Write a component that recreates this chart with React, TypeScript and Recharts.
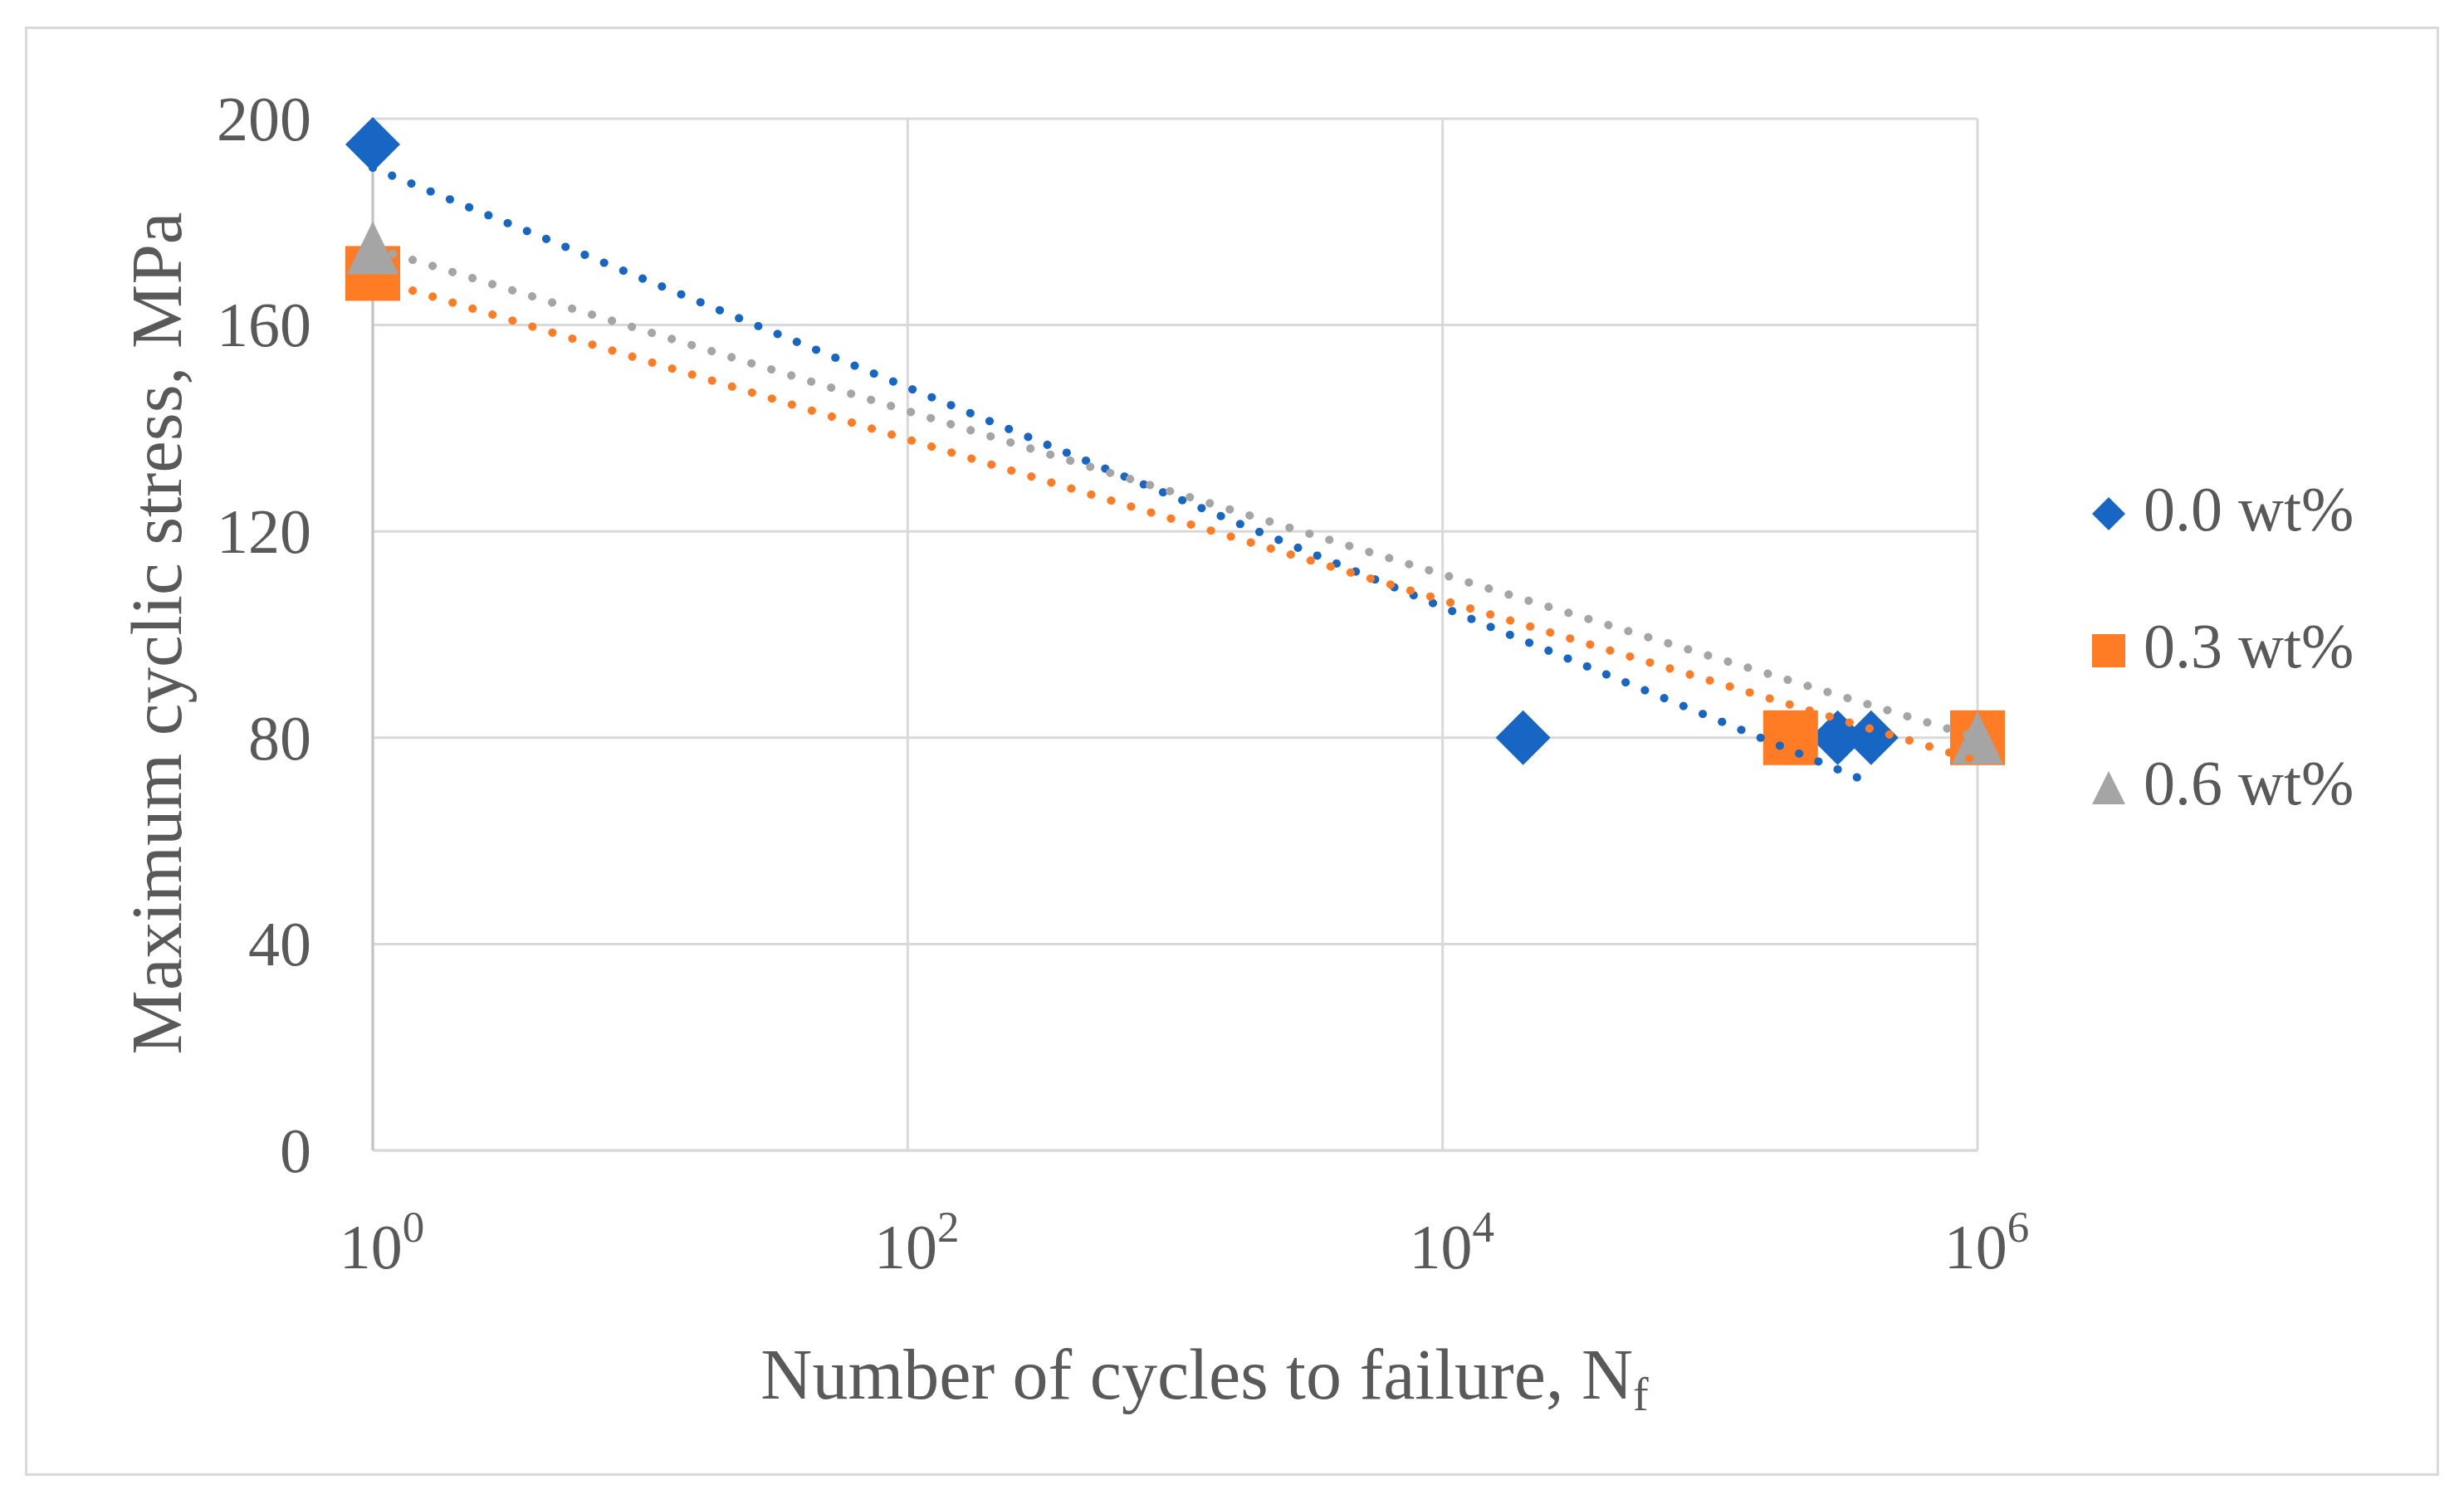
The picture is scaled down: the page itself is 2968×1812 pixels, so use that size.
import React from "react";
import {
  ScatterChart,
  Scatter,
  XAxis,
  YAxis,
  CartesianGrid,
  Legend,
} from "recharts";

const seriesNames = ["0.0 wt%", "0.3 wt%", "0.6 wt%"];
const seriesColors = ["#1766c4", "#ff7c24", "#a5a5a5"];

// measured points (cycles, MPa)
const cycles00 = [1, 20000, 300000, 400000];
const stress00 = [195, 80, 80, 80];
const cycles03 = [1, 200000, 1000000];
const stress03 = [170, 80, 80];
const cycles06 = [1, 1000000];
const stress06 = [175, 80];

// dotted trendline end points
const trendCycles00 = [1, 400000];
const trendStress00 = [190.5, 71.2];
const trendCycles03 = [1, 1000000];
const trendStress03 = [169, 75.5];
const trendCycles06 = [1, 1000000];
const trendStress06 = [175, 80];

const xTicks = [1, 100, 10000, 1000000];
const yTicks = [0, 40, 80, 120, 160, 200];

const FONT = "'Liberation Serif', serif";
const TEXT = "#595959";
const GRID = "#d9d9d9";

const toPoints = (xs: number[], ys: number[]) =>
  xs.map((x, i) => ({ x, y: ys[i] }));

const Diamond = (p: any) => (
  <path
    d={`M${p.cx},${p.cy - 33}L${p.cx + 33},${p.cy}L${p.cx},${p.cy + 33}L${p.cx - 33},${p.cy}Z`}
    fill={p.fill}
  />
);
const Square = (p: any) => (
  <rect x={p.cx - 33} y={p.cy - 33} width={66} height={66} fill={p.fill} />
);
const Triangle = (p: any) => (
  <path
    d={`M${p.cx},${p.cy - 32}L${p.cx + 31},${p.cy + 32}L${p.cx - 31},${p.cy + 32}Z`}
    fill={p.fill}
  />
);
const NoDot = () => <g />;

const XTick = (p: any) => {
  const exp = Math.round(Math.log10(p.payload.value));
  return (
    <text
      x={p.x + 11}
      y={p.y + 142}
      textAnchor="middle"
      fontFamily={FONT}
      fontSize={76}
      fill={TEXT}
    >
      <tspan>10</tspan>
      <tspan dy={-32} fontSize={53}>
        {exp}
      </tspan>
    </text>
  );
};

const YTick = (p: any) => (
  <text
    x={p.x - 74}
    y={p.y}
    dy="0.34em"
    textAnchor="end"
    fontFamily={FONT}
    fontSize={76}
    fill={TEXT}
  >
    {p.payload.value}
  </text>
);

const legendIcons = [
  (cx: number, cy: number, c: string) => (
    <path d={`M${cx},${cy - 20}L${cx + 20},${cy}L${cx},${cy + 20}L${cx - 20},${cy}Z`} fill={c} />
  ),
  (cx: number, cy: number, c: string) => (
    <rect x={cx - 20} y={cy - 20} width={40} height={40} fill={c} />
  ),
  (cx: number, cy: number, c: string) => (
    <path d={`M${cx},${cy - 20}L${cx + 20},${cy + 20}L${cx - 20},${cy + 20}Z`} fill={c} />
  ),
];

const LegendBox = () => (
  <svg width={420} height={440}>
    {seriesNames.map((name, i) => {
      const cy = 59 + i * 165;
      return (
        <g key={name}>
          {legendIcons[i](50, cy, seriesColors[i])}
          <text
            x={92}
            y={cy + 20}
            fontFamily={FONT}
            fontSize={76}
            fill={TEXT}
          >
            {name}
          </text>
        </g>
      );
    })}
  </svg>
);

const trendLine = (color: string) => ({
  stroke: color,
  strokeWidth: 10,
  strokeDasharray: "0.1 25",
  strokeLinecap: "round",
});

export default function App() {
  return (
    <div
      style={{
        position: "absolute",
        left: 0,
        top: 0,
        width: 2968,
        height: 1812,
        background: "#fff",
      }}
    >
      <div
        style={{
          position: "absolute",
          left: 30,
          top: 32,
          width: 2902,
          height: 1740,
          border: `3px solid ${GRID}`,
        }}
      />
      <div style={{ position: "absolute", left: 0, top: 0 }}>
        <ScatterChart
          width={2968}
          height={1812}
          margin={{ top: 143, right: 586, bottom: 0, left: 0 }}
        >
          <CartesianGrid stroke={GRID} strokeWidth={3} />
          <XAxis
            type="number"
            dataKey="x"
            scale="log"
            domain={[1, 1000000]}
            ticks={xTicks}
            height={426}
            tickSize={0}
            tickMargin={0}
            tickLine={false}
            axisLine={{ stroke: GRID, strokeWidth: 3 }}
            tick={<XTick />}
            interval={0}
            label={{
              content: () => (
                <text
                  x={1451}
                  y={1685}
                  textAnchor="middle"
                  fontFamily={FONT}
                  fontSize={86}
                  fill={TEXT}
                >
                  Number of cycles to failure, N
                  <tspan fontSize={56} dy={14}>
                    f
                  </tspan>
                </text>
              ),
            }}
          />
          <YAxis
            type="number"
            dataKey="y"
            domain={[0, 200]}
            ticks={yTicks}
            width={449}
            tickSize={0}
            tickMargin={0}
            tickLine={false}
            axisLine={{ stroke: "#c4c4c4", strokeWidth: 3 }}
            tick={<YTick />}
            interval={0}
            label={{
              content: () => (
                <text
                  x={218}
                  y={763}
                  transform="rotate(-90 218 763)"
                  textAnchor="middle"
                  fontFamily={FONT}
                  fontSize={87}
                  fill={TEXT}
                >
                  Maximum cyclic stress, MPa
                </text>
              ),
            }}
          />
          <Legend
            layout="vertical"
            align="center"
            verticalAlign="middle"
            content={<LegendBox />}
            wrapperStyle={{ left: 2490, top: 560, width: 420, height: 440 }}
          />
          <Scatter
            name={seriesNames[0]}
            data={toPoints(cycles00, stress00)}
            fill={seriesColors[0]}
            shape={Diamond}
            isAnimationActive={false}
          />
          <Scatter
            name={seriesNames[1]}
            data={toPoints(cycles03, stress03)}
            fill={seriesColors[1]}
            shape={Square}
            isAnimationActive={false}
          />
          <Scatter
            name={seriesNames[2]}
            data={toPoints(cycles06, stress06)}
            fill={seriesColors[2]}
            shape={Triangle}
            isAnimationActive={false}
          />
          <Scatter
            data={toPoints(trendCycles00, trendStress00)}
            line={trendLine(seriesColors[0])}
            shape={NoDot}
            legendType="none"
            isAnimationActive={false}
          />
          <Scatter
            data={toPoints(trendCycles03, trendStress03)}
            line={trendLine(seriesColors[1])}
            shape={NoDot}
            legendType="none"
            isAnimationActive={false}
          />
          <Scatter
            data={toPoints(trendCycles06, trendStress06)}
            line={trendLine(seriesColors[2])}
            shape={NoDot}
            legendType="none"
            isAnimationActive={false}
          />
        </ScatterChart>
      </div>
    </div>
  );
}
